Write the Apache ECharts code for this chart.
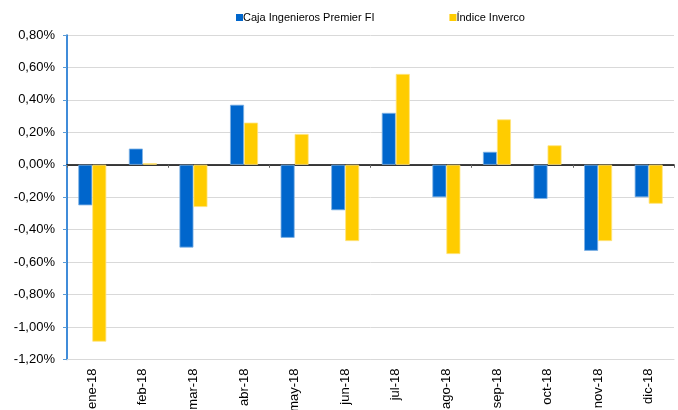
<!DOCTYPE html>
<html>
<head>
<meta charset="utf-8">
<script src="https://cdn.jsdelivr.net/npm/echarts@6/dist/echarts.min.js"></script>
<style>
  html, body { margin: 0; padding: 0; background: #fff; }
  #chart { width: 678px; height: 410px; }
</style>
</head>
<body>
<div id="chart"></div>
<script>
// datos mensuales (rentabilidad en %)
const meses = ["ene-18", "feb-18", "mar-18", "abr-18", "may-18", "jun-18",
               "jul-18", "ago-18", "sep-18", "oct-18", "nov-18", "dic-18"];
const cajaIngenieros = [-0.25, 0.10, -0.51, 0.37, -0.45, -0.28, 0.32, -0.20, 0.08, -0.21, -0.53, -0.20];
const indiceInverco = [-1.09, 0.01, -0.26, 0.26, 0.19, -0.47, 0.56, -0.55, 0.28, 0.12, -0.47, -0.24];

const fmtPct = v => v.toFixed(2).replace(".", ",") + "%";

const chart = echarts.init(document.getElementById("chart"));

const option = {
  animation: false,
  textStyle: { fontFamily: "Liberation Sans, Arial, sans-serif" },
  legend: {
    left: 236,
    top: 12,
    padding: 0,
    itemWidth: 7,
    itemHeight: 7,
    itemGap: 75,
    icon: "rect",
    itemStyle: { borderWidth: 0 },
    textStyle: { fontSize: 11, color: "#000", padding: [0, 0, 0, -5] },
    data: ["Caja Ingenieros Premier FI", "Índice Inverco"]
  },
  grid: { left: 67, right: 4, top: 35, bottom: 50.5, containLabel: false, outerBoundsMode: "none" },
  xAxis: [
    {
      // eje con etiquetas abajo
      type: "category",
      data: meses,
      position: "bottom",
      axisLine: { onZero: false, lineStyle: { color: "#D9D9D9" } },
      axisTick: { show: false },
      axisLabel: { rotate: 90, fontSize: 13, color: "#000", margin: 9 }
    },
    {
      // línea del cero con marcas
      type: "category",
      data: meses,
      position: "top",
      axisLine: { onZero: true, lineStyle: { color: "#000", width: 1.5 } },
      axisTick: { show: true, inside: true, length: 3, lineStyle: { color: "#666" } },
      axisLabel: { show: false }
    }
  ],
  yAxis: {
    type: "value",
    min: -1.2,
    max: 0.8,
    interval: 0.2,
    axisLine: { show: true, lineStyle: { color: "#0066CC", width: 1.5 } },
    axisTick: { show: true, length: 4, lineStyle: { color: "#5B9BD5" } },
    axisLabel: { fontSize: 13, color: "#000", margin: 12, formatter: fmtPct },
    splitLine: { lineStyle: { color: "#D9D9D9" } }
  },
  series: [
    {
      name: "Caja Ingenieros Premier FI",
      type: "bar",
      xAxisIndex: 0,
      data: cajaIngenieros,
      barWidth: 14,
      barGap: "0%",
      itemStyle: { color: "#0066CC", borderColor: "#7FB2E5", borderWidth: 0.8 }
    },
    {
      name: "Índice Inverco",
      type: "bar",
      xAxisIndex: 0,
      data: indiceInverco,
      barWidth: 14,
      barGap: "0%",
      itemStyle: { color: "#FFCC00", borderColor: "#FFE580", borderWidth: 0.8 }
    }
  ]
};

chart.setOption(option);
</script>
</body>
</html>
